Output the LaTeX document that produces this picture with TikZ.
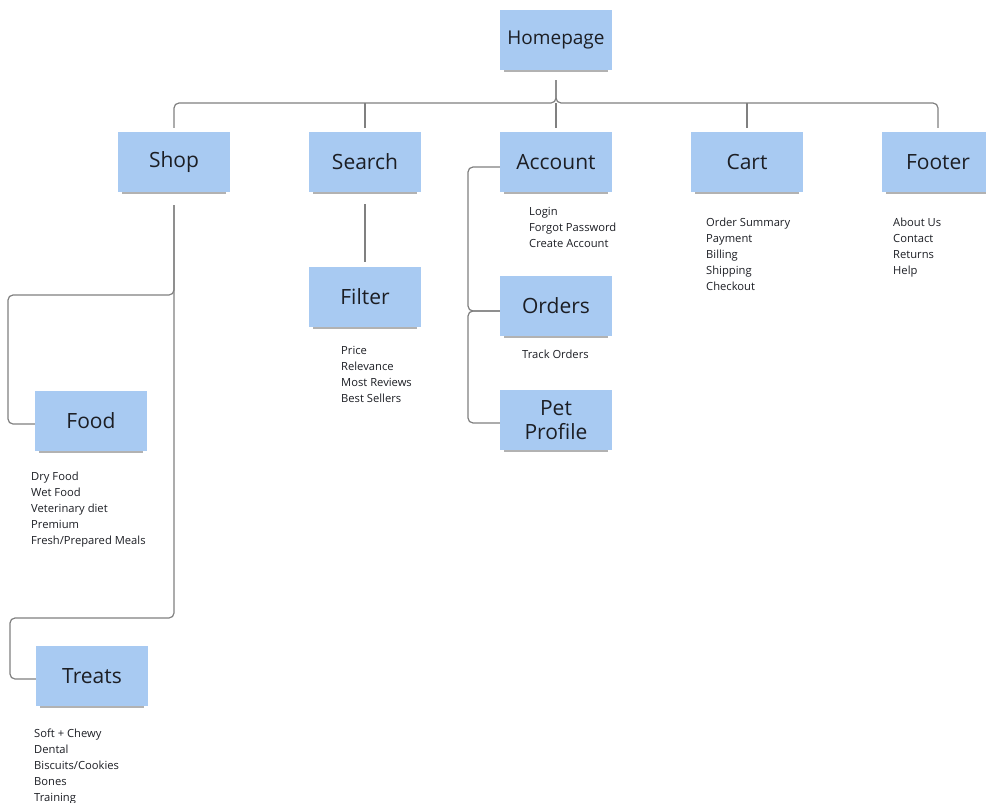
\documentclass[tikz,border=0pt]{standalone}
\usepackage{fontspec}
\setmainfont{Open Sans}
\usetikzlibrary{shadows}
\definecolor{stickyblue}{RGB}{168,202,242}
\definecolor{inkdark}{RGB}{28,30,36}
\definecolor{linkgray}{RGB}{128,128,128}
\tikzset{
sticky/.style={fill=stickyblue, minimum width=112pt, minimum height=60pt,
  inner sep=2pt, align=center, text=inkdark, font=\fontsize{21}{24}\selectfont,
  drop shadow={shadow xshift=0pt, shadow yshift=-5pt, shadow scale=0.92,
  opacity=0.3, fill=black}},
items/.style={anchor=north west, inner sep=0pt, align=left, text=inkdark,
  font=\fontsize{11.2}{16}\selectfont},
link/.style={draw=linkgray, line width=1.2pt, rounded corners=5pt}
}
\begin{document}
\begin{tikzpicture}[x=1pt,y=-1pt]
\useasboundingbox (0,0) rectangle (986,803);
% top level
\node[sticky, font=\fontsize{19}{24}\selectfont] (home) at (556,40) {Homepage};
\node[sticky] (shop) at (174,162) {Shop};
\node[sticky] (search) at (365,162) {Search};
\node[sticky] (account) at (556,162) {Account};
\node[sticky] (cart) at (747,162) {Cart};
\node[sticky] (footer) at (938,162) {Footer};
% second level
\node[sticky] (filter) at (365,297) {Filter};
\node[sticky] (orders) at (556,306) {Orders};
\node[sticky] (pet) at (556,420) {Pet\\Profile};
\node[sticky] (food) at (91,421) {Food};
\node[sticky] (treats) at (92,676) {Treats};
% page contents
\node[items] (accountlist) at (529,207) {Login\\Forgot Password\\Create Account};
\node[items] (cartlist) at (706,218) {Order Summary\\Payment\\Billing\\Shipping\\Checkout};
\node[items] (footerlist) at (893,218) {About Us\\Contact\\Returns\\Help};
\node[items] (filterlist) at (341,346) {Price\\Relevance\\Most Reviews\\Best Sellers};
\node[items] (orderslist) at (522,350) {Track Orders};
\node[items] (foodlist) at (31,472) {Dry Food\\Wet Food\\Veterinary diet\\Premium\\Fresh/Prepared Meals};
\node[items] (treatslist) at (34,729) {Soft + Chewy\\Dental\\Biscuits/Cookies\\Bones\\Training};
% connectors
\coordinate (hometail) at (556,80);
\coordinate (bar) at (556,103);
\coordinate (shoptail) at (174,205);
\coordinate (foodturn) at (8,295);
\coordinate (treatsturn) at (10,618);
\coordinate (ordersturn) at (468,311);
\coordinate (petturn) at (468,423);
\draw[link] (hometail) -- (bar) -| ([yshift=4pt]shop.north);
\draw[link] (hometail) -- (bar) -| ([yshift=4pt]footer.north);
\draw[link] (bar) -- ([yshift=4pt]account.north);
\draw[link] (search.north |- bar) -- ([yshift=4pt]search.north);
\draw[link] (cart.north |- bar) -- ([yshift=4pt]cart.north);
\draw[link] ([yshift=-12pt]search.south) -- ([yshift=5pt]filter.north);
\draw[link] (shoptail) |- (foodturn) |- ([yshift=-3pt]food.west);
\draw[link] (shoptail) |- (treatsturn) |- ([yshift=-3pt]treats.west);
\draw[link] ([yshift=-5pt]account.west) -| (ordersturn) -- ([yshift=-5pt]orders.west);
\draw[link] ([yshift=-5pt]orders.west) -| (petturn) -- ([yshift=-3pt]pet.west);
\end{tikzpicture}
\end{document}
